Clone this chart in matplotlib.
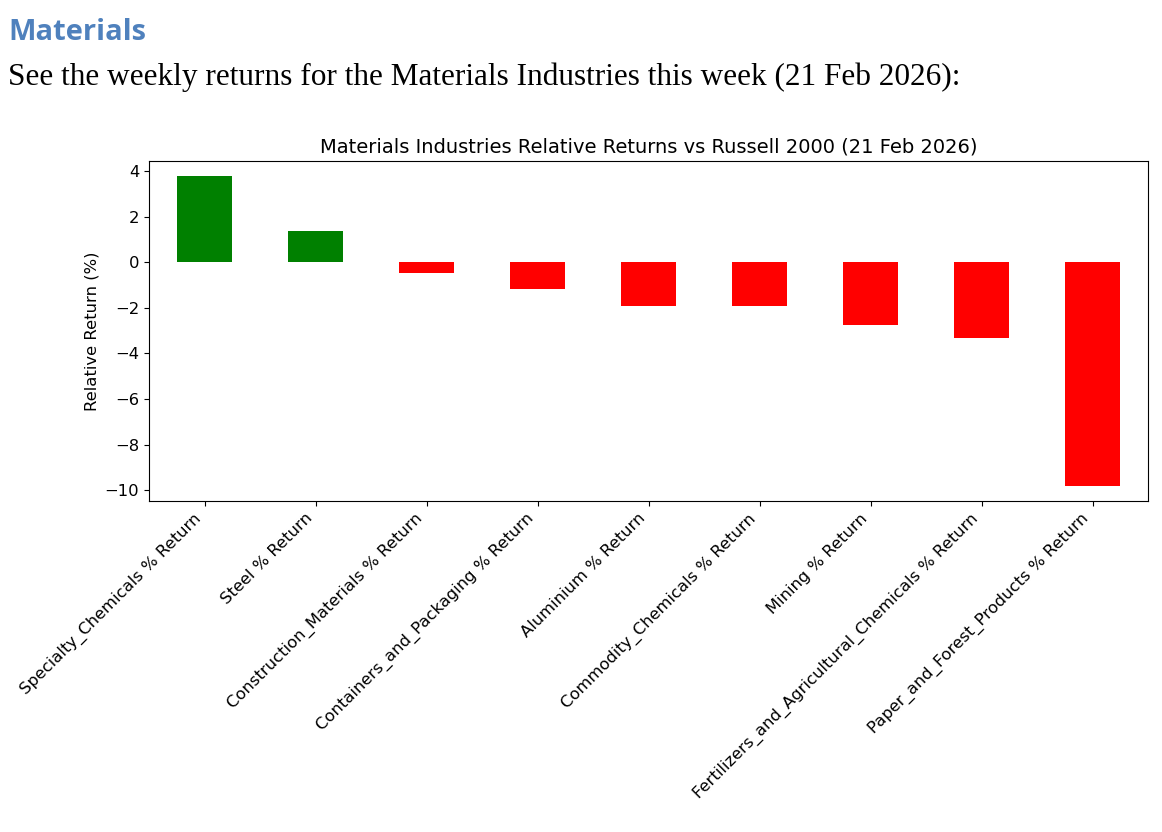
import matplotlib
matplotlib.use("Agg")
import matplotlib.pyplot as plt
import numpy as np

categories = ["Specialty_Chemicals % Return", "Steel % Return", "Construction_Materials % Return",
              "Containers_and_Packaging % Return", "Aluminium % Return", "Commodity_Chemicals % Return",
              "Mining % Return", "Fertilizers_and_Agricultural_Chemicals % Return",
              "Paper_and_Forest_Products % Return"]
returns = [3.76, 1.36, -0.47, -1.19, -1.90, -1.90, -2.74, -3.33, -9.79]

title = "Materials Industries Relative Returns vs Russell 2000 (21 Feb 2026)"
header = "Materials"
intro = "See the weekly returns for the Materials Industries this week (21 Feb 2026):"

colors = ["green" if v > 0 else "red" for v in returns]

fig = plt.figure(figsize=(11.62, 8.32), dpi=100)
ax = fig.add_axes([149/1162, 1-501/832, 999/1162, 340/832])

x = np.arange(len(categories))
ax.bar(x, returns, width=0.5, color=colors)
ax.set_xlim(-0.5, len(categories)-0.5)
ax.margins(y=0.05)
ax.set_xticks(x)
ax.set_xticklabels(categories, rotation=45, ha="right", fontsize=11.8)
ax.tick_params(axis="y", labelsize=11.8)
ax.set_ylabel("Relative Return (%)", fontsize=11.8)
ax.set_title(title, fontsize=14, pad=6)

fig.text(8/1162, 1-32/832, header, fontsize=21, fontweight="bold", color="#4F81BD",
         family="Open Sans", va="center")
fig.text(8/1162, 1-77/832, intro, fontsize=22.5, color="black",
         family="Liberation Serif", va="center")

fig.savefig("out.png", dpi=100)
